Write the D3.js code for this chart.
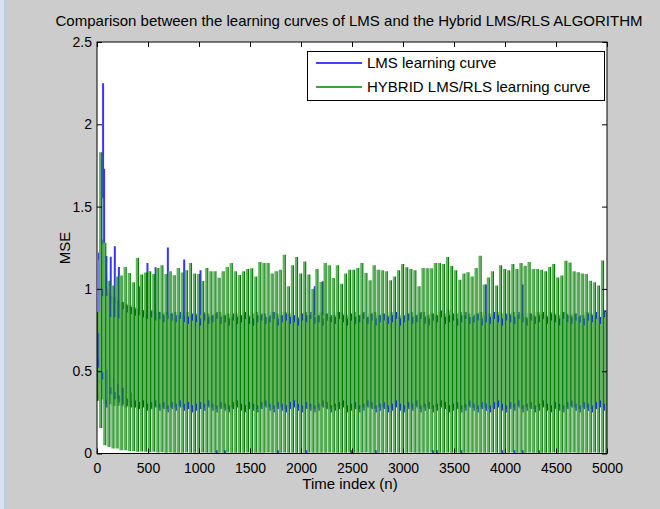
<!DOCTYPE html>
<html><head><meta charset="utf-8">
<script src="https://cdn.jsdelivr.net/npm/d3@7"></script>
<style>body{margin:0;background:#cccccc;} svg{display:block;font-family:Arial,"Liberation Sans",sans-serif;}</style>
</head><body><svg id="c" width="660" height="509"></svg>
<script>
// ---------- data ----------
const titleText = "Comparison between the learning curves of LMS and the Hybrid LMS/RLS ALGORITHM";
const xLabel = "Time index (n)";
const yLabel = "MSE";
const seriesNames = ["LMS learning curve", "HYBRID LMS/RLS learning curve"];
const xTicks = [0,500,1000,1500,2000,2500,3000,3500,4000,4500,5000];
const xTickLabels = ["0","500","1000","1500","2000","2500","3000","3500","4000","4500","5000"];
const yTicks = [0,0.5,1,1.5,2,2.5];
const yTickLabels = ["0","0.5","1","1.5","2","2.5"];

// cycle positions (time index of each oscillation cycle)
const cycleN = [0,40,80,120,160,200,240,280,320,360,400,440,480,520,560,600,640,680,720,760,
800,840,880,920,960,1000,1040,1080,1120,1160,1200,1240,1280,1320,1360,1400,1440,1480,1520,1560,
1600,1640,1680,1720,1760,1800,1840,1880,1920,1960,2000,2040,2080,2120,2160,2200,2240,2280,2320,2360,
2400,2440,2480,2520,2560,2600,2640,2680,2720,2760,2800,2840,2880,2920,2960,3000,3040,3080,3120,3160,
3200,3240,3280,3320,3360,3400,3440,3480,3520,3560,3600,3640,3680,3720,3760,3800,3840,3880,3920,3960,
4000,4040,4080,4120,4160,4200,4240,4280,4320,4360,4400,4440,4480,4520,4560,4600,4640,4680,4720,4760,
4800,4840,4880,4920,4960,5000];

// HYBRID LMS/RLS: spike maxima, spike minima, band upper / lower edge per cycle
const hybPeak = [0.86,1.83,1.28,1.05,1.02,1.076,1.081,1.133,1.097,1.040,
1.188,1.087,1.10,1.107,1.09,1.127,1.143,1.09,1.107,1.083,
1.127,1.10,1.113,1.157,1.093,1.09,1.048,1.127,1.107,1.107,
1.068,1.107,1.133,1.157,1.107,1.085,1.107,1.121,1.125,1.076,
1.163,1.157,1.157,1.093,1.107,1.117,1.208,1.016,1.143,1.194,
1.093,1.167,1.087,1.00,1.121,1.042,1.157,1.143,1.066,1.143,
1.032,1.093,1.117,1.117,1.127,1.157,1.097,1.052,1.143,1.117,
1.113,1.107,1.052,1.076,1.113,1.151,1.131,1.121,1.113,1.016,
1.127,1.125,1.125,1.157,1.157,1.151,1.194,1.139,1.113,1.056,
1.093,1.101,1.076,1.127,1.202,1.026,1.070,1.107,1.020,1.143,
1.121,1.113,1.151,1.121,1.157,1.141,1.163,1.121,1.121,1.117,
1.107,1.133,1.151,1.070,1.081,1.171,1.161,1.107,1.101,1.093,
1.091,1.050,1.040,1.020,1.173,0.86];
const hybTrough = [0.32,0.155,0.05,0.04,0.03,0.03,0.02,0.02,0.015,0.015,
0.01,0.012,0.01,0.008,0.01,0.006,0.008,0.005,0.006,0.005,
0.005,0.004,0.006,0.005,0.004,0.005,0.006,0.004,0.005,0.005,
0.004,0.005,0.006,0.004,0.005,0.004,0.005,0.006,0.004,0.005,
0.005,0.004,0.006,0.005,0.004,0.005,0.006,0.004,0.005,0.005,
0.004,0.005,0.006,0.004,0.005,0.004,0.005,0.006,0.004,0.005,
0.005,0.004,0.006,0.005,0.004,0.005,0.006,0.004,0.005,0.005,
0.004,0.005,0.006,0.004,0.005,0.004,0.005,0.006,0.004,0.005,
0.005,0.004,0.006,0.005,0.004,0.005,0.006,0.004,0.005,0.005,
0.004,0.005,0.006,0.004,0.005,0.004,0.005,0.006,0.004,0.005,
0.005,0.004,0.006,0.005,0.004,0.005,0.006,0.004,0.005,0.005,
0.004,0.005,0.006,0.004,0.005,0.004,0.005,0.006,0.004,0.005,
0.005,0.004,0.006,0.005,0.004,0.0];
const hybHi = [0.86,1.30,1.08,0.98,0.95,0.93,0.92,0.91,0.90,0.89,
0.88,0.87,0.87,0.86,0.87,0.86,0.85,0.86,0.85,0.86,
0.84,0.85,0.86,0.84,0.85,0.84,0.86,0.85,0.84,0.85,
0.86,0.84,0.85,0.83,0.85,0.84,0.86,0.84,0.85,0.86,
0.84,0.85,0.83,0.86,0.85,0.84,0.86,0.85,0.84,0.83,
0.85,0.86,0.84,0.85,0.84,0.86,0.85,0.83,0.84,0.86,
0.85,0.84,0.85,0.86,0.84,0.85,0.83,0.85,0.86,0.84,
0.85,0.84,0.86,0.85,0.84,0.83,0.85,0.86,0.84,0.85,
0.86,0.84,0.85,0.84,0.86,0.85,0.87,0.84,0.85,0.86,
0.84,0.85,0.83,0.85,0.86,0.84,0.85,0.84,0.86,0.85,
0.84,0.85,0.86,0.84,0.85,0.83,0.85,0.84,0.86,0.85,
0.84,0.86,0.85,0.84,0.86,0.85,0.84,0.85,0.83,0.84,
0.86,0.85,0.84,0.83,0.86,0.85];
const hybLo = [0.32,0.33,0.30,0.30,0.29,0.29,0.29,0.28,0.29,0.28,
0.28,0.29,0.28,0.28,0.29,0.28,0.28,0.27,0.28,0.28,
0.29,0.28,0.27,0.28,0.28,0.27,0.28,0.29,0.28,0.27,
0.28,0.28,0.27,0.28,0.29,0.28,0.27,0.28,0.28,0.27,
0.28,0.29,0.28,0.27,0.28,0.28,0.27,0.28,0.29,0.28,
0.27,0.28,0.28,0.27,0.28,0.29,0.28,0.27,0.28,0.28,
0.29,0.27,0.28,0.28,0.27,0.28,0.29,0.28,0.27,0.28,
0.28,0.27,0.28,0.29,0.28,0.27,0.28,0.28,0.29,0.27,
0.28,0.28,0.27,0.28,0.29,0.28,0.27,0.28,0.28,0.27,
0.28,0.29,0.28,0.27,0.28,0.28,0.27,0.28,0.29,0.28,
0.27,0.28,0.28,0.29,0.27,0.28,0.28,0.27,0.28,0.29,
0.28,0.27,0.28,0.28,0.27,0.28,0.29,0.28,0.27,0.28,
0.28,0.27,0.28,0.29,0.28,0.27];

// LMS: band upper / lower edge per cycle
const lmsHi = [1.22,1.00,1.00,0.96,0.95,0.93,0.92,0.90,0.89,0.88,
0.90,0.87,0.86,0.87,0.85,0.86,0.84,0.86,0.85,0.84,
0.86,0.84,0.83,0.85,0.84,0.82,0.85,0.83,0.84,0.86,
0.83,0.84,0.82,0.85,0.83,0.84,0.86,0.83,0.82,0.84,
0.85,0.83,0.84,0.86,0.82,0.84,0.85,0.83,0.84,0.82,
0.85,0.84,0.86,0.83,0.84,0.82,0.85,0.84,0.83,0.86,
0.84,0.82,0.85,0.83,0.84,0.86,0.83,0.85,0.82,0.84,
0.85,0.83,0.84,0.86,0.82,0.84,0.85,0.83,0.84,0.86,
0.83,0.82,0.85,0.84,0.87,0.83,0.84,0.85,0.82,0.84,
0.86,0.83,0.84,0.85,0.82,0.84,0.83,0.86,0.84,0.82,
0.85,0.84,0.83,0.86,0.84,0.82,0.85,0.83,0.84,0.86,
0.83,0.85,0.84,0.82,0.86,0.84,0.83,0.85,0.84,0.82,
0.85,0.84,0.86,0.83,0.87,0.84];
const lmsLo = [0.53,0.45,0.28,0.36,0.33,0.31,0.30,0.29,0.28,0.28,
0.27,0.28,0.26,0.27,0.28,0.26,0.27,0.25,0.27,0.26,
0.28,0.26,0.27,0.25,0.26,0.27,0.26,0.28,0.26,0.25,
0.27,0.26,0.25,0.27,0.28,0.26,0.25,0.27,0.26,0.25,
0.27,0.28,0.26,0.25,0.27,0.26,0.25,0.27,0.28,0.26,
0.25,0.27,0.26,0.25,0.26,0.28,0.27,0.25,0.26,0.27,
0.28,0.25,0.26,0.27,0.25,0.26,0.28,0.27,0.25,0.26,
0.27,0.25,0.26,0.28,0.26,0.25,0.27,0.26,0.28,0.25,
0.26,0.27,0.25,0.26,0.28,0.27,0.25,0.26,0.27,0.25,
0.26,0.28,0.26,0.25,0.27,0.26,0.25,0.27,0.28,0.26,
0.25,0.27,0.26,0.28,0.25,0.26,0.27,0.25,0.26,0.28,
0.26,0.25,0.27,0.26,0.25,0.27,0.28,0.26,0.25,0.27,
0.26,0.25,0.27,0.28,0.26,0.25];

// LMS excursions outside its band (spikes and dips)
const lmsSegN  = [8,8,28,45,55,78,90,120,140,160,185,200,240,330,400,480,560,680,840,1000,2120,2200,3800,4160,
1160,1240,1760,2040,2480,2720,3280,3320,3560,3960,4080,4160,4320];
const lmsSegHi = [1.22,0.73,1.55,2.25,1.73,1.20,0.51,1.196,0.46,1.259,0.42,1.133,0.40,0.37,1.016,1.157,1.131,1.252,1.178,1.113,1.016,1.046,1.026,1.026,
0.02,0.02,0.02,0.02,0.02,0.02,0.02,0.02,0.02,0.02,0.02,0.02,0.02];
const lmsSegLo = [0.86,0.52,1.27,1.55,0.95,0.99,0.28,0.83,0.36,0.83,0.33,0.82,0.31,0.30,0.84,0.84,0.84,0.84,0.84,0.84,0.84,0.84,0.84,0.84,
0,0,0,0,0,0,0,0,0,0,0,0,0];

// ---------- drawing ----------
const W = 660, H = 509;
const svg = d3.select("#c");
svg.append("rect").attr("width", W).attr("height", H).attr("fill", "#cccccc");
svg.append("rect").attr("x", 0).attr("y", 0).attr("width", 4).attr("height", H).attr("fill", "#d8e2ee");
svg.append("rect").attr("x", 4).attr("y", 0).attr("width", 2).attr("height", H).attr("fill", "#b9cce6");

const L = 97, R = 607, T = 42, B = 453.5;
const x = d3.scaleLinear().domain([0, 5000]).range([L, R]);
const y = d3.scaleLinear().domain([0, 2.5]).range([B, T]);

svg.append("rect").attr("x", L).attr("y", T).attr("width", R - L).attr("height", B - T).attr("fill", "#ffffff");
svg.append("defs").append("clipPath").attr("id", "clip")
  .append("rect").attr("x", L).attr("y", T).attr("width", R - L).attr("height", B - T);

const g = svg.append("g").attr("clip-path", "url(#clip)");
const cyc = cycleN.map((n, i) => ({
  n, peak: hybPeak[i], trough: hybTrough[i], hi: hybHi[i], lo: hybLo[i], lhi: lmsHi[i], llo: lmsLo[i]
}));

// HYBRID dense band
const band = d3.area().curve(d3.curveStep)
  .x(d => x(d.n)).y0(d => y(d.lo)).y1(d => y(d.hi));
g.append("path").datum(cyc).attr("d", band).attr("fill", "#6cb86c");

// LMS band edges
g.selectAll("rect.lt").data(cyc).join("rect").attr("class", "lt")
  .attr("x", d => x(d.n) + 1.2).attr("y", d => y(d.lhi)).attr("width", 2.2).attr("height", 7)
  .attr("fill", "#0a22e0");
g.selectAll("rect.lb").data(cyc).join("rect").attr("class", "lb")
  .attr("x", d => x(d.n) + 1.2).attr("y", d => y(d.llo) - 7).attr("width", 2.2).attr("height", 7)
  .attr("fill", "#0a22e0");

// LMS excursions
const segs = lmsSegN.map((n, i) => ({ n, hi: lmsSegHi[i], lo: lmsSegLo[i] }));
g.selectAll("line.ls").data(segs).join("line").attr("class", "ls")
  .attr("x1", d => x(d.n) + 1.5).attr("x2", d => x(d.n) + 1.5)
  .attr("y1", d => y(d.hi)).attr("y2", d => y(d.lo))
  .attr("stroke", "#3535ff").attr("stroke-width", 2);

// HYBRID spikes
g.selectAll("line.gl").data(cyc).join("line").attr("class", "gl")
  .attr("x1", d => x(d.n) - 1).attr("x2", d => x(d.n) - 1)
  .attr("y1", d => y(d.peak)).attr("y2", d => y(d.trough))
  .attr("stroke", "#62b262").attr("stroke-width", 2);
g.selectAll("line.gd").data(cyc).join("line").attr("class", "gd")
  .attr("x1", d => x(d.n) + 0.6).attr("x2", d => x(d.n) + 0.6)
  .attr("y1", d => y(d.peak)).attr("y2", d => y(d.trough))
  .attr("stroke", "#007c00").attr("stroke-width", 1.2);

// axes
const fontSize = 14;
const ax = (gen, tr) => svg.append("g").attr("transform", tr).call(gen)
  .call(s => s.select(".domain").remove())
  .call(s => s.selectAll("line").attr("stroke", "#000"))
  .call(s => s.selectAll("text").attr("font-size", fontSize).attr("font-family", "Arial, 'Liberation Sans', sans-serif").attr("fill", "#000"));
ax(d3.axisBottom(x).tickValues(xTicks).tickFormat((d, i) => xTickLabels[i]).tickSizeInner(-5).tickSizeOuter(0).tickPadding(9.5), `translate(0,${B})`);
ax(d3.axisTop(x).tickValues(xTicks).tickFormat("").tickSizeInner(-5).tickSizeOuter(0), `translate(0,${T})`);
ax(d3.axisLeft(y).tickValues(yTicks).tickFormat((d, i) => yTickLabels[i]).tickSizeInner(-5).tickSizeOuter(0).tickPadding(5), `translate(${L},0)`);
ax(d3.axisRight(y).tickValues(yTicks).tickFormat("").tickSizeInner(-5).tickSizeOuter(0), `translate(${R},0)`);

svg.append("rect").attr("x", L).attr("y", T).attr("width", R - L).attr("height", B - T)
  .attr("fill", "none").attr("stroke", "#000").attr("stroke-width", 1);

// title and labels
svg.append("text").attr("x", 349).attr("y", 26).attr("text-anchor", "middle")
  .attr("font-size", 15).text(titleText);
svg.append("text").attr("x", 350).attr("y", 489).attr("text-anchor", "middle")
  .attr("font-size", 15).text(xLabel);
svg.append("text").attr("transform", "translate(70,248) rotate(-90)").attr("text-anchor", "middle")
  .attr("font-size", 15).text(yLabel);

// legend
const lg = svg.append("g");
lg.append("rect").attr("x", 307.5).attr("y", 51.5).attr("width", 297).attr("height", 49)
  .attr("fill", "#fff").attr("stroke", "#000").attr("stroke-width", 1);
const legColors = ["#0000ff", "#008000"];
seriesNames.forEach((name, i) => {
  const ly = 63 + i * 24;
  lg.append("line").attr("x1", 316).attr("x2", 362).attr("y1", ly).attr("y2", ly)
    .attr("stroke", legColors[i]).attr("stroke-width", 1.6);
  lg.append("text").attr("x", 367).attr("y", ly).attr("dy", "0.36em")
    .attr("font-size", 15).text(name);
});
</script>
</body></html>
